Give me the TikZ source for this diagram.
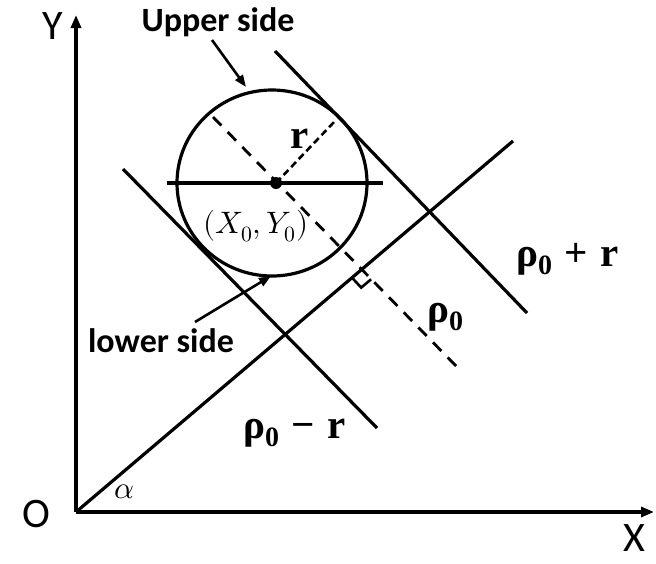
\documentclass[tikz,border=0pt]{standalone}
\usepackage{fontspec}
\usepackage{unicode-math}
\setmathfont{Latin Modern Math}
\setmainfont{Carlito}
\newfontfamily\grk{Liberation Serif}
\usetikzlibrary{arrows.meta}
\newcommand{\rhosub}{ρ\raisebox{-0.2em}{\fontsize{28}{30}\selectfont 0}}
\begin{document}
\begin{tikzpicture}[x=1pt,y=-1pt,line cap=butt,
  axis/.style={line width=3.2pt,-{Triangle[length=13pt,width=10pt]}},
  pointer/.style={line width=2.6pt,-{Triangle[length=12pt,width=9pt]}},
  ln/.style={line width=3.2pt},
  dashA/.style={line width=2.8pt,dash pattern=on 12pt off 9pt},
  dashB/.style={line width=2.6pt,dash pattern=on 7pt off 4pt},
  lbl/.style={font=\fontsize{34}{36}\selectfont\bfseries,inner sep=0pt},
  axl/.style={font=\fontsize{42}{46}\selectfont,inner sep=0pt},
  rholbl/.style={font=\grk\bfseries\fontsize{41}{44}\selectfont,inner sep=0pt},
  mathlbl/.style={font=\fontsize{31}{34}\selectfont,inner sep=0pt}]
\useasboundingbox (0,0) rectangle (656,563);
% coordinates
\coordinate (O) at (76,512);
\coordinate (Ytip) at (76,15);
\coordinate (Xtip) at (654,512);
\coordinate (Dtop) at (513,141);
\coordinate (L1a) at (123,169);
\coordinate (L1b) at (377,428);
\coordinate (L2a) at (275,51);
\coordinate (L2b) at (527,313);
\coordinate (C) at (276,183);
\coordinate (Cc) at (272,183);
\coordinate (Hl) at (167,183);
\coordinate (Hr) at (383,183);
\coordinate (Da) at (213,117);
\coordinate (Db) at (458,368);
\coordinate (T) at (335,121);
\coordinate (Q1) at (352.4,278.1);
\coordinate (Q2) at (361.2,287.6);
\coordinate (Q3) at (371.1,279.3);
\coordinate (Ua) at (212,40);
\coordinate (Ub) at (246,87);
\coordinate (La) at (195,322);
\coordinate (Lb) at (271,276);
% axes
\draw[axis] (O) -- (Ytip);
\draw[axis] (O) -- (Xtip);
% lines
\draw[ln] (O) -- (Dtop);
\draw[ln] (L1a) -- (L1b);
\draw[ln] (L2a) -- (L2b);
% circle
\draw[ln] (Cc) ellipse [x radius=95pt,y radius=93pt];
\draw[ln] (Hl) -- (Hr);
\draw[dashA] (Da) -- (Db);
\draw[dashB] (C) -- (T);
\fill (C) circle [radius=6pt];
% right angle
\draw[line width=2.6pt] (Q1) -- (Q2) -- (Q3);
% pointers
\draw[pointer] (Ua) -- (Ub);
\draw[pointer] (La) -- (Lb);
% labels
\node[axl] (ylab) at (53,26) {Y};
\node[axl] (olab) at (36,514) {O};
\node[axl] (xlab) at (634,538) {X};
\node[mathlbl] (alab) at (124,492) {$\alpha$};
\node[lbl,anchor=base] (up) at (218,31) {Upper side};
\node[lbl,anchor=base] (low) at (161,352) {lower side};
\node[rholbl] (rlab) at (300,139) {r};
\node[mathlbl] (xy) at (256,226) {$(X_0,Y_0)$};
\node[rholbl,anchor=base west] (rp) at (516,266) {\rhosub\hspace{0.3em}+\hspace{0.3em}r};
\node[rholbl,anchor=base west] (r0) at (427,322) {\rhosub};
\node[rholbl,anchor=base west] (rm) at (243,438) {\rhosub\hspace{0.3em}−\hspace{0.3em}r};
\end{tikzpicture}
\end{document}
